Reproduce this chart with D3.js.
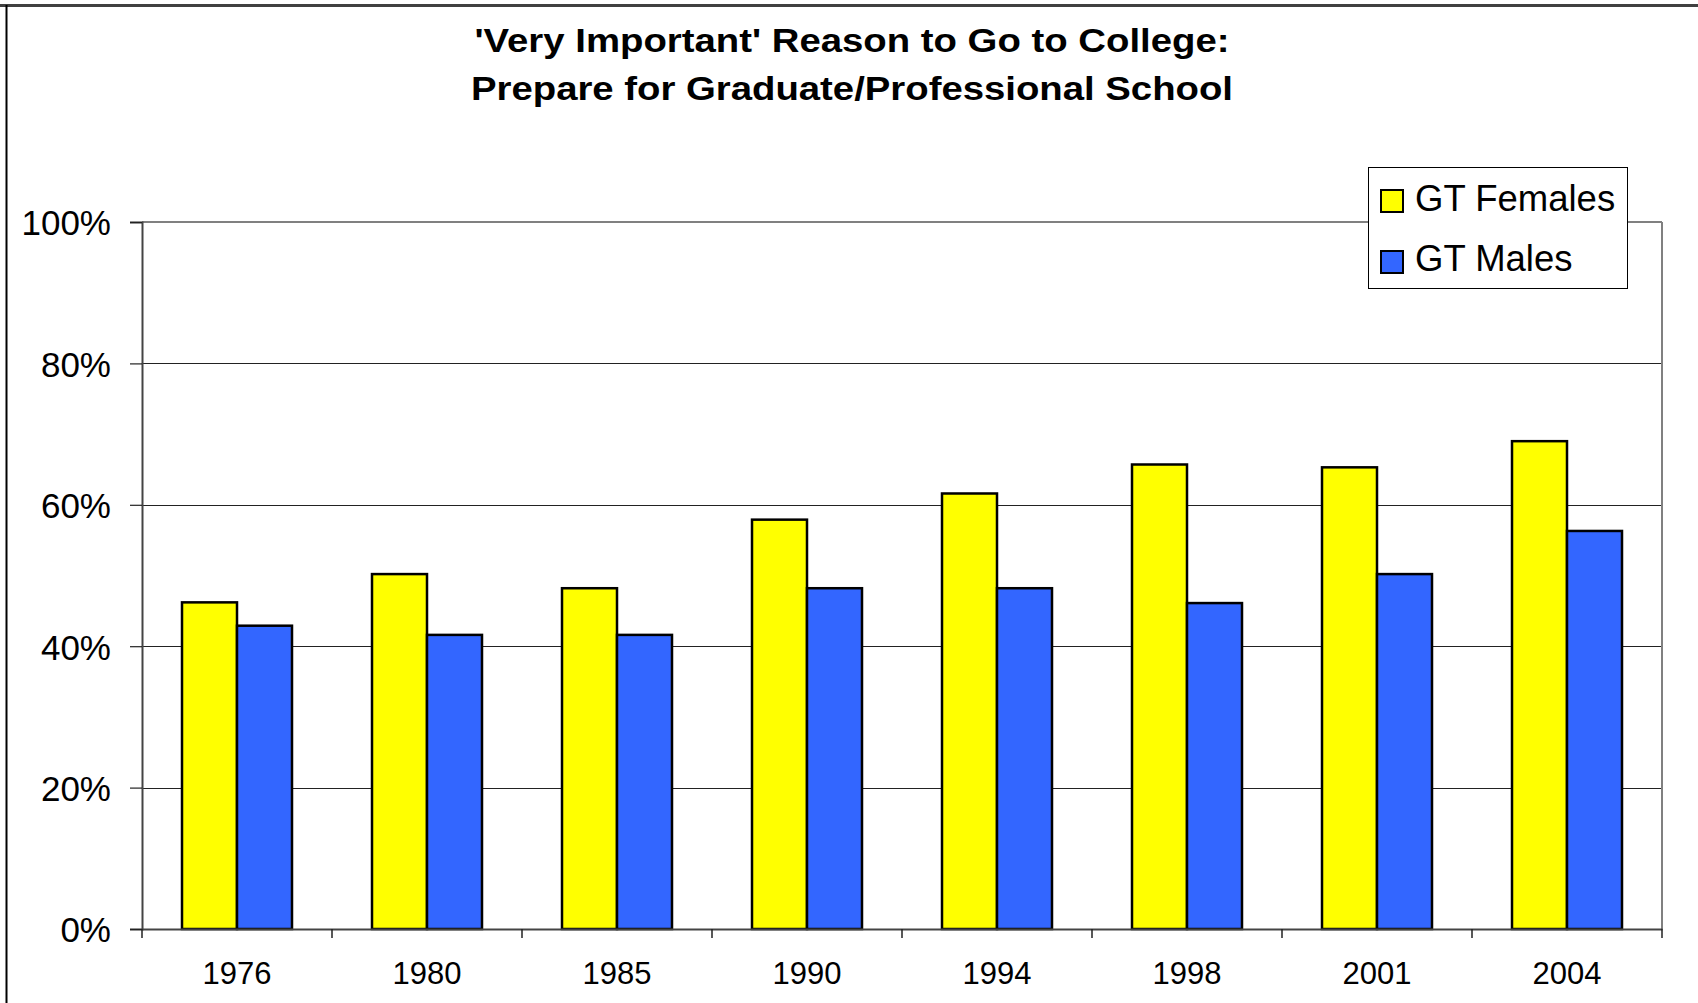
<!DOCTYPE html>
<html><head><meta charset="utf-8">
<script src="https://cdn.jsdelivr.net/npm/d3@7"></script>
<style>html,body{margin:0;padding:0;background:#fff;}svg{display:block;font-family:Arial,"Liberation Sans",sans-serif;}</style>
</head><body>
<script>
const years = ["1976","1980","1985","1990","1994","1998","2001","2004"];
const females = [46.2, 50.2, 48.2, 57.9, 61.6, 65.7, 65.3, 69.0];
const males = [42.9, 41.6, 41.6, 48.2, 48.2, 46.1, 50.2, 56.3];
const seriesNames = ["GT Females", "GT Males"];
const seriesColors = ["#FFFF00", "#3366FF"];
const yTicks = [0, 20, 40, 60, 80, 100];
const titleLines = ["'Very Important' Reason to Go to College:", "Prepare for Graduate/Professional School"];

const W = 1698, H = 1003;
const m = {left: 142, right: 1662, top: 222, bottom: 929};
const svg = d3.select("body").append("svg").attr("width", W).attr("height", H);

svg.append("rect").attr("x", 0).attr("y", 0).attr("width", W).attr("height", H).attr("fill", "#fff");
// outer chart border
svg.append("line").attr("x1", 0).attr("x2", W).attr("y1", 5.5).attr("y2", 5.5).attr("stroke", "#404040").attr("stroke-width", 3);
svg.append("line").attr("x1", 6.5).attr("x2", 6.5).attr("y1", 5).attr("y2", H).attr("stroke", "#000").attr("stroke-width", 2);

const x0 = d3.scaleBand().domain(years).range([m.left, m.right]).paddingInner(80/190).paddingOuter(40/190);
const x1 = d3.scaleBand().domain(seriesNames).range([0, x0.bandwidth()]);
const y = d3.scaleLinear().domain([0, 100]).range([m.bottom, m.top]);
const xCat = d3.scaleBand().domain(years).range([m.left, m.right]);

// gridlines
svg.append("g").selectAll("line").data(yTicks.filter(d => d > 0 && d < 100)).join("line")
  .attr("x1", m.left).attr("x2", m.right).attr("y1", d => Math.round(y(d)) + 0.5).attr("y2", d => Math.round(y(d)) + 0.5)
  .attr("stroke", "#222").attr("stroke-width", 1);
// plot top / right border gray
svg.append("line").attr("x1", m.left).attr("x2", m.right).attr("y1", m.top).attr("y2", m.top).attr("stroke", "#808080").attr("stroke-width", 2);
svg.append("line").attr("x1", m.right).attr("x2", m.right).attr("y1", m.top).attr("y2", m.bottom).attr("stroke", "#808080").attr("stroke-width", 2);

// bars
const data = years.map((yr, i) => ({year: yr, vals: [females[i], males[i]]}));
const g = svg.append("g").selectAll("g").data(data).join("g").attr("transform", d => `translate(${x0(d.year)},0)`);
g.selectAll("rect").data(d => d.vals.map((v, j) => ({v, name: seriesNames[j], color: seriesColors[j]}))).join("rect")
  .attr("x", d => x1(d.name)).attr("width", x1.bandwidth())
  .attr("y", d => y(d.v)).attr("height", d => y(0) - y(d.v))
  .attr("fill", d => d.color).attr("stroke", "#000").attr("stroke-width", 2.5);

// y axis
const yAxis = svg.append("g").attr("transform", `translate(${m.left},0)`)
  .call(d3.axisLeft(y).tickValues(yTicks).tickFormat(d => d + "%").tickSize(12).tickPadding(19));
yAxis.select(".domain").attr("stroke", "#444").attr("stroke-width", 2);
yAxis.selectAll(".tick line").attr("stroke", "#222").attr("stroke-width", 1.2);
yAxis.selectAll("text").attr("font-size", 35).attr("fill", "#000").attr("dy", "0.37em");

// x axis
const xAxis = svg.append("g").attr("transform", `translate(0,${m.bottom})`)
  .call(d3.axisBottom(xCat).tickSize(0).tickPadding(33));
xAxis.select(".domain").attr("stroke", "#444").attr("stroke-width", 2);
xAxis.selectAll("text").attr("font-size", 31).attr("fill", "#000");
svg.append("g").selectAll("line").data(years.map(d => xCat(d)).concat([m.right])).join("line")
  .attr("x1", d => d).attr("x2", d => d).attr("y1", m.bottom).attr("y2", m.bottom + 9)
  .attr("stroke", "#222").attr("stroke-width", 1.5);

// title
svg.append("g").selectAll("text").data(titleLines).join("text")
  .attr("x", 852).attr("y", (d, i) => 52 + i * 48).attr("text-anchor", "middle")
  .attr("font-size", 34).attr("font-weight", "bold").attr("fill", "#000")
  .attr("textLength", (d, i) => i === 0 ? 755 : 762).attr("lengthAdjust", "spacingAndGlyphs")
  .text(d => d);

// legend
const lg = svg.append("g");
lg.append("rect").attr("x", 1368.5).attr("y", 167.5).attr("width", 259).attr("height", 121)
  .attr("fill", "#fff").attr("stroke", "#000").attr("stroke-width", 1);
seriesNames.forEach((n, i) => {
  lg.append("rect").attr("x", 1381).attr("y", 190 + i * 61).attr("width", 22).attr("height", 22)
    .attr("fill", seriesColors[i]).attr("stroke", "#000").attr("stroke-width", 2);
  lg.append("text").attr("x", 1415).attr("y", 211 + i * 60).attr("font-size", 36.5).attr("fill", "#000").text(n);
});
</script>
</body></html>
